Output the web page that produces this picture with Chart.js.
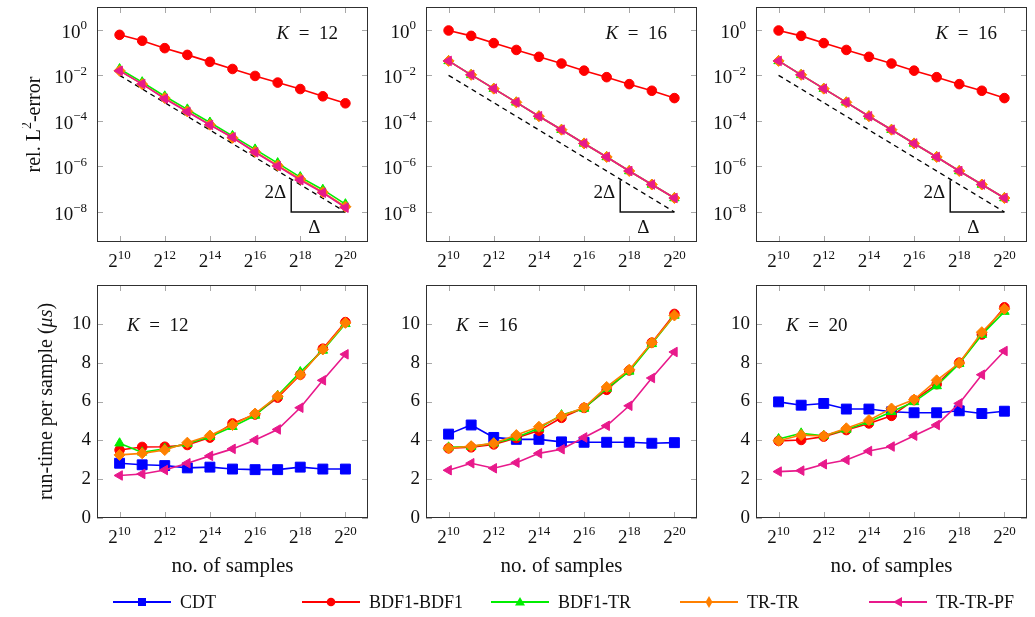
<!DOCTYPE html>
<html>
<head>
<meta charset="utf-8">
<title>rel. L2-error and run-time per sample</title>
<script src="https://cdn.jsdelivr.net/npm/chart.js@4.4.1/dist/chart.umd.min.js"></script>
<style>
  body { margin: 0; background: #fff; font-family: "Liberation Serif", serif; }
  #page { position: relative; width: 1035px; height: 617px; overflow: hidden; background: #fff; }
  #page canvas { position: absolute; }
  .leg { position: absolute; top: 592px; height: 20px; display: flex; align-items: center;
         font-size: 18px; color: #111; white-space: nowrap; }
  .leg svg { margin-right: 9px; }
</style>
</head>
<body>
<div id="page"></div>
<script>
// log2 of the number of samples
const logN = [10, 11, 12, 13, 14, 15, 16, 17, 18, 19, 20];

// rel. L2-error, K = 12
const errBDF1BDF1_K12 = [0.60, 0.33, 0.156, 0.079, 0.039, 0.019, 0.0094, 0.0048, 0.0025, 0.0012, 5.9e-4];
const errBDF1TR_K12 = [1.9e-2, 5.0e-3, 1.2e-3, 3.2e-4, 8.5e-5, 2.2e-5, 5.6e-6, 1.4e-6, 3.4e-7, 9.5e-8, 2.2e-8];
const errTRTR_K12 = [1.6e-2, 4.1e-3, 1.0e-3, 2.6e-4, 6.8e-5, 1.8e-5, 4.4e-6, 1.1e-6, 2.8e-7, 7.4e-8, 1.7e-8];
const errTRTRPF_K12 = [1.57e-2, 4.2e-3, 9.4e-4, 2.5e-4, 6.6e-5, 1.9e-5, 4.2e-6, 1.03e-6, 2.5e-7, 7.0e-8, 1.55e-8];

// rel. L2-error, K = 16 (middle and right panels read the same)
const errBDF1BDF1_K16 = [0.93, 0.54, 0.26, 0.13, 0.065, 0.033, 0.016, 0.0083, 0.0041, 0.0021, 0.0010];
const errBDF1TR_K16 = [4.3e-2, 1.05e-2, 2.6e-3, 6.5e-4, 1.6e-4, 4.1e-5, 1.02e-5, 2.6e-6, 6.3e-7, 1.6e-7, 4.1e-8];
const errTRTR_K16 = [4.3e-2, 1.05e-2, 2.6e-3, 6.5e-4, 1.6e-4, 4.1e-5, 1.02e-5, 2.6e-6, 6.3e-7, 1.6e-7, 4.1e-8];
const errTRTRPF_K16 = [4.3e-2, 1.05e-2, 2.6e-3, 6.5e-4, 1.6e-4, 4.1e-5, 1.02e-5, 2.6e-6, 6.3e-7, 1.6e-7, 4.1e-8];

// reference slope (dashed) and the 2Δ / Δ triangle
const refLogN = [10, 20];
const refErr = [1e-2, 1e-8];
const triLogN = [17.6, 17.6, 20];
const triErr = [2.5e-7, 1e-8, 1e-8];

// run-time per sample (µs), K = 12
const timeCDT_K12 = [2.82, 2.74, 2.70, 2.58, 2.62, 2.52, 2.49, 2.49, 2.62, 2.52, 2.52];
const timeBDF1BDF1_K12 = [3.50, 3.66, 3.67, 3.76, 4.14, 4.87, 5.33, 6.20, 7.38, 8.72, 10.09];
const timeBDF1TR_K12 = [3.85, 3.38, 3.57, 3.83, 4.19, 4.70, 5.28, 6.30, 7.52, 8.63, 10.00];
const timeTRTR_K12 = [3.25, 3.33, 3.50, 3.88, 4.25, 4.79, 5.38, 6.27, 7.38, 8.68, 10.05];
const timeTRTRPF_K12 = [2.19, 2.27, 2.47, 2.82, 3.20, 3.56, 4.02, 4.56, 5.68, 7.09, 8.43];

// K = 16
const timeCDT_K16 = [4.32, 4.79, 4.15, 4.05, 4.05, 3.92, 3.90, 3.90, 3.90, 3.85, 3.88];
const timeBDF1BDF1_K16 = [3.59, 3.64, 3.79, 4.12, 4.50, 5.16, 5.67, 6.60, 7.60, 9.03, 10.51];
const timeBDF1TR_K16 = [3.64, 3.68, 3.85, 4.15, 4.62, 5.30, 5.64, 6.67, 7.55, 8.97, 10.43];
const timeTRTR_K16 = [3.59, 3.70, 3.85, 4.27, 4.70, 5.25, 5.69, 6.75, 7.64, 9.03, 10.43];
const timeTRTRPF_K16 = [2.46, 2.82, 2.56, 2.85, 3.33, 3.54, 4.15, 4.75, 5.78, 7.21, 8.55];

// K = 20
const timeCDT_K20 = [5.98, 5.81, 5.90, 5.61, 5.61, 5.47, 5.42, 5.42, 5.52, 5.38, 5.50];
const timeBDF1BDF1_K20 = [3.97, 4.02, 4.19, 4.53, 4.87, 5.26, 6.07, 6.89, 8.00, 9.45, 10.85];
const timeBDF1TR_K20 = [4.07, 4.36, 4.24, 4.56, 4.96, 5.47, 5.98, 6.80, 7.95, 9.44, 10.63];
const timeTRTR_K20 = [3.98, 4.27, 4.22, 4.62, 5.04, 5.64, 6.10, 7.09, 7.98, 9.57, 10.77];
const timeTRTRPF_K20 = [2.39, 2.44, 2.77, 2.99, 3.45, 3.68, 4.24, 4.79, 5.90, 7.38, 8.60];

// tick labels
const xTickExp = [10, 12, 14, 16, 18, 20];
const errTickExp = [0, -2, -4, -6, -8];
const timeTicks = [0, 2, 4, 6, 8, 10];

const seriesNames = ['CDT', 'BDF1-BDF1', 'BDF1-TR', 'TR-TR', 'TR-TR-PF'];
const seriesColors = ['#0000ff', '#ff0000', '#00ee00', '#ff8000', '#e8198b'];
const seriesMarkers = ['rect', 'circle', 'triangle', 'rectRot', 'triangle'];
const markerRadius = [7, 4.8, 5.5, 5.5, 5.5];
const markerRotation = [0, 0, 0, 0, -90];

const FONT = '"Liberation Serif", "Times New Roman", serif';
const PAD = { left: 75, top: 7, right: 10, bottom: 62 };

const panels = [
  { box: [97, 7, 271, 235], type: 'err', K: '12', yTitle: true,
    series: [null, errBDF1BDF1_K12, errBDF1TR_K12, errTRTR_K12, errTRTRPF_K12] },
  { box: [426, 7, 271, 235], type: 'err', K: '16',
    series: [null, errBDF1BDF1_K16, errBDF1TR_K16, errTRTR_K16, errTRTRPF_K16] },
  { box: [756, 7, 271, 235], type: 'err', K: '16',
    series: [null, errBDF1BDF1_K16, errBDF1TR_K16, errTRTR_K16, errTRTRPF_K16] },
  { box: [97, 284, 271, 234], type: 'time', K: '12', yTitle: true, xTitle: true,
    series: [timeCDT_K12, timeBDF1BDF1_K12, timeBDF1TR_K12, timeTRTR_K12, timeTRTRPF_K12] },
  { box: [426, 284, 271, 234], type: 'time', K: '16', xTitle: true,
    series: [timeCDT_K16, timeBDF1BDF1_K16, timeBDF1TR_K16, timeTRTR_K16, timeTRTRPF_K16] },
  { box: [756, 284, 271, 234], type: 'time', K: '20', xTitle: true,
    series: [timeCDT_K20, timeBDF1BDF1_K20, timeBDF1TR_K20, timeTRTR_K20, timeTRTRPF_K20] }
];

// draw text made of pieces (italic / superscript)
function drawRich(ctx, segs, x, y, align, size) {
  size = size || 19;
  let total = 0;
  const parts = segs.map(s => {
    const fs = s.sup ? Math.round(size * 0.68) : size;
    const font = (s.it ? 'italic ' : '') + fs + 'px ' + FONT;
    ctx.font = font;
    const w = ctx.measureText(s.t).width;
    total += w;
    return { s, font, w };
  });
  let cx = align === 'center' ? x - total / 2 : align === 'right' ? x - total : x;
  ctx.textAlign = 'left';
  ctx.textBaseline = 'middle';
  parts.forEach(p => {
    ctx.font = p.font;
    ctx.fillText(p.s.t, cx, p.s.sup ? y - size * 0.36 : y);
    cx += p.w;
  });
}

const framePlugin = {
  id: 'pgfFrame',
  beforeDatasetsDraw(chart) {
    const { ctx, chartArea: a, scales: { x, y } } = chart;
    const o = chart.options.plugins.pgfFrame;
    ctx.save();
    ctx.strokeStyle = '#a8a8a8';
    ctx.lineWidth = 1;
    ctx.beginPath();
    xTickExp.forEach(e => {
      const px = Math.round(x.getPixelForValue(e)) + 0.5;
      ctx.moveTo(px, a.top); ctx.lineTo(px, a.top + 6);
      ctx.moveTo(px, a.bottom); ctx.lineTo(px, a.bottom - 6);
    });
    const yv = o.type === 'err' ? errTickExp.map(e => Math.pow(10, e)) : timeTicks;
    yv.forEach(v => {
      const py = Math.round(y.getPixelForValue(v)) + 0.5;
      ctx.moveTo(a.left, py); ctx.lineTo(a.left + 6, py);
      ctx.moveTo(a.right, py); ctx.lineTo(a.right - 6, py);
    });
    ctx.stroke();
    ctx.strokeStyle = '#303030';
    ctx.strokeRect(Math.round(a.left) + 0.5, Math.round(a.top) + 0.5,
      Math.round(a.right - a.left) - 1, Math.round(a.bottom - a.top) - 1);
    ctx.restore();
  },
  afterDraw(chart) {
    const { ctx, chartArea: a, scales: { x, y } } = chart;
    const o = chart.options.plugins.pgfFrame;
    ctx.save();
    ctx.fillStyle = '#111';
    xTickExp.forEach(e => {
      drawRich(ctx, [{ t: '2' }, { t: String(e), sup: true }], x.getPixelForValue(e), a.bottom + 20, 'center');
    });
    if (o.type === 'err') {
      errTickExp.forEach(e => {
        const lab = e === 0 ? '0' : '\u2212' + (-e);
        drawRich(ctx, [{ t: '10' }, { t: lab, sup: true }], a.left - 10, y.getPixelForValue(Math.pow(10, e)) + 3, 'right');
      });
      drawRich(ctx, [{ t: 'K', it: true }, { t: '\u2002=\u2002' + o.K }], a.right - 30, a.top + 27, 'right');
      // slope triangle labels
      const vx = x.getPixelForValue(triLogN[0]);
      const hx = x.getPixelForValue(triLogN[2]);
      const ty = y.getPixelForValue(triErr[0]);
      const by = y.getPixelForValue(triErr[1]);
      drawRich(ctx, [{ t: '2\u0394' }], vx - 5, (ty + by) / 2 - 3, 'right');
      drawRich(ctx, [{ t: '\u0394' }], (vx + hx) / 2 - 4, by + 16, 'center');
    } else {
      timeTicks.forEach(v => {
        drawRich(ctx, [{ t: String(v) }], a.left - 6, y.getPixelForValue(v), 'right');
      });
      drawRich(ctx, [{ t: 'K', it: true }, { t: '\u2002=\u2002' + o.K }], a.left + 30, a.top + 41, 'left');
    }
    if (o.yTitle) {
      ctx.save();
      const midY = (a.top + a.bottom) / 2;
      if (o.type === 'err') {
        ctx.translate(a.left - 62, midY);
        ctx.rotate(-Math.PI / 2);
        drawRich(ctx, [{ t: 'rel. L' }, { t: '2', sup: true }, { t: '-error' }], 0, 0, 'center', 20);
      } else {
        ctx.translate(a.left - 50, midY);
        ctx.rotate(-Math.PI / 2);
        drawRich(ctx, [{ t: 'run-time per sample (' }, { t: '\u03bcs', it: true }, { t: ')' }], 0, 0, 'center', 20);
      }
      ctx.restore();
    }
    if (o.xTitle) {
      drawRich(ctx, [{ t: 'no. of samples' }], (a.left + a.right) / 2, a.bottom + 48, 'center', 21);
    }
    ctx.restore();
  }
};

function makeDatasets(p) {
  const sets = [];
  p.series.forEach((vals, i) => {
    if (!vals) return;
    sets.push({
      label: seriesNames[i],
      data: logN.map((n, j) => ({ x: n, y: vals[j] })),
      borderColor: seriesColors[i],
      backgroundColor: seriesColors[i],
      pointBackgroundColor: seriesColors[i],
      pointBorderColor: seriesColors[i],
      pointStyle: seriesMarkers[i],
      pointRadius: markerRadius[i],
      pointRotation: markerRotation[i],
      pointBorderWidth: 1,
      borderWidth: 1.6,
      tension: 0,
      order: 5 - i
    });
  });
  if (p.type === 'err') {
    sets.push({
      label: 'slope',
      data: refLogN.map((n, j) => ({ x: n, y: refErr[j] })),
      borderColor: '#000', borderWidth: 1.3, borderDash: [5, 4],
      pointRadius: 0, order: 10
    });
    sets.push({
      label: 'triangle',
      data: triLogN.map((n, j) => ({ x: n, y: triErr[j] })),
      borderColor: '#111', borderWidth: 1.5,
      pointRadius: 0, order: 10
    });
  }
  return sets;
}

const page = document.getElementById('page');

panels.forEach(p => {
  const [bx, by, bw, bh] = p.box;
  const cv = document.createElement('canvas');
  cv.width = bw + PAD.left + PAD.right;
  cv.height = bh + PAD.top + PAD.bottom;
  cv.style.left = (bx - PAD.left) + 'px';
  cv.style.top = (by - PAD.top) + 'px';
  page.appendChild(cv);

  const yScale = p.type === 'err'
    ? { type: 'logarithmic', min: 4.8e-10, max: 10, display: false }
    : { type: 'linear', min: 0, max: 12, display: false };

  new Chart(cv, {
    type: 'line',
    data: { datasets: makeDatasets(p) },
    options: {
      responsive: false,
      animation: false,
      events: [],
      layout: { padding: PAD },
      plugins: {
        legend: { display: false },
        tooltip: { enabled: false },
        pgfFrame: { type: p.type, K: p.K, yTitle: !!p.yTitle, xTitle: !!p.xTitle }
      },
      scales: {
        x: { type: 'linear', min: 9, max: 21, display: false },
        y: yScale
      }
    },
    plugins: [framePlugin]
  });
});

// legend below the panels
function legendSvg(i) {
  const c = seriesColors[i];
  let m = '';
  if (seriesMarkers[i] === 'rect') m = '<rect x="25" y="4" width="8" height="8" fill="' + c + '"/>';
  else if (seriesMarkers[i] === 'circle') m = '<circle cx="29" cy="8" r="4.3" fill="' + c + '"/>';
  else if (markerRotation[i] === -90) m = '<polygon points="24,8 33,3 33,13" fill="' + c + '"/>';
  else if (seriesMarkers[i] === 'triangle') m = '<polygon points="29,3 34,11.5 24,11.5" fill="' + c + '"/>';
  else m = '<polygon points="29,2 32.5,8 29,14 25.5,8" fill="' + c + '"/>';
  return '<svg width="58" height="16" viewBox="0 0 58 16">' +
    '<line x1="0" y1="8" x2="58" y2="8" stroke="' + c + '" stroke-width="2"/>' + m + '</svg>';
}

seriesNames.forEach((name, i) => {
  const item = document.createElement('div');
  item.className = 'leg';
  item.style.left = (113 + 189 * i) + 'px';
  item.innerHTML = legendSvg(i) + '<span>' + name + '</span>';
  page.appendChild(item);
});
</script>
</body>
</html>
